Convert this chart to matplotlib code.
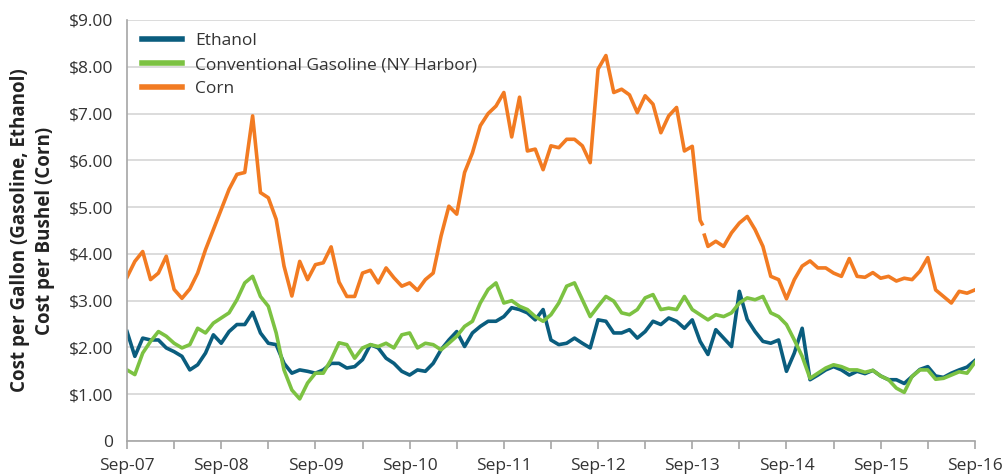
import numpy as np
import matplotlib
matplotlib.use("Agg")
from matplotlib import pyplot as plt

plt.rcParams['font.family'] = ['Open Sans', 'DejaVu Sans']

# monthly values, Sep-07 .. Sep-16 (month 0 .. 108)
ethanol = [2.34, 1.81, 2.20, 2.16, 2.16, 1.99, 1.91, 1.81, 1.52, 1.63,
           1.88, 2.27, 2.09, 2.34, 2.49, 2.49, 2.75, 2.31, 2.09, 2.06,
           1.66, 1.45, 1.52, 1.49, 1.45, 1.52, 1.66, 1.66, 1.56, 1.59,
           1.74, 2.06, 1.99, 1.77, 1.66, 1.49, 1.41, 1.52, 1.49, 1.66,
           1.95, 2.16, 2.34, 2.02, 2.31, 2.45, 2.56, 2.56, 2.66, 2.85,
           2.81, 2.74, 2.59, 2.81, 2.16, 2.06, 2.09, 2.20, 2.09, 1.99,
           2.59, 2.56, 2.31, 2.31, 2.38, 2.20, 2.34, 2.56, 2.49, 2.63,
           2.56, 2.41, 2.59, 2.13, 1.85, 2.38, 2.20, 2.02, 3.20, 2.60,
           2.34, 2.13, 2.09, 2.16, 1.49, 1.88, 2.41, 1.31, 1.41, 1.52,
           1.59, 1.52, 1.41, 1.49, 1.44, 1.51, 1.39, 1.31, 1.31, 1.23,
           1.38, 1.53, 1.59, 1.39, 1.36, 1.45, 1.52, 1.58, 1.72]

gasoline = [1.52, 1.42, 1.88, 2.13, 2.34, 2.24, 2.09, 1.99, 2.06, 2.41,
            2.31, 2.52, 2.63, 2.74, 3.02, 3.38, 3.52, 3.09, 2.88, 2.31,
            1.52, 1.09, 0.90, 1.24, 1.45, 1.45, 1.74, 2.10, 2.06, 1.77,
            1.99, 2.06, 2.02, 2.09, 1.99, 2.27, 2.31, 1.99, 2.09, 2.06,
            1.95, 2.09, 2.24, 2.45, 2.56, 2.95, 3.24, 3.38, 2.95, 3.00,
            2.88, 2.81, 2.66, 2.56, 2.70, 2.95, 3.31, 3.38, 3.02, 2.66,
            2.88, 3.09, 2.99, 2.74, 2.70, 2.81, 3.06, 3.13, 2.81, 2.84,
            2.81, 3.09, 2.81, 2.70, 2.59, 2.70, 2.66, 2.74, 2.95, 3.06,
            3.02, 3.09, 2.74, 2.66, 2.49, 2.16, 1.81, 1.34, 1.45, 1.56,
            1.63, 1.59, 1.52, 1.52, 1.47, 1.51, 1.39, 1.31, 1.13, 1.04,
            1.38, 1.52, 1.52, 1.32, 1.34, 1.41, 1.48, 1.45, 1.68]

corn = [3.50, 3.84, 4.05, 3.45, 3.59, 3.95, 3.24, 3.05, 3.25, 3.59,
        4.09, 4.52, 4.95, 5.38, 5.70, 5.74, 6.95, 5.31, 5.20, 4.74,
        3.74, 3.10, 3.84, 3.45, 3.77, 3.81, 4.15, 3.40, 3.09, 3.09,
        3.59, 3.65, 3.38, 3.70, 3.49, 3.31, 3.38, 3.22, 3.45, 3.59,
        4.38, 5.02, 4.85, 5.74, 6.16, 6.74, 7.00, 7.16, 7.45, 6.50,
        7.35, 6.20, 6.24, 5.80, 6.31, 6.27, 6.45, 6.45, 6.31, 5.95,
        7.95, 8.24, 7.45, 7.52, 7.40, 7.02, 7.38, 7.20, 6.59, 6.95,
        7.13, 6.20, 6.30, 4.72, 4.16, 4.27, 4.16, 4.45, 4.66, 4.80,
        4.52, 4.16, 3.52, 3.45, 3.04, 3.45, 3.74, 3.85, 3.70, 3.70,
        3.59, 3.52, 3.90, 3.52, 3.50, 3.60, 3.48, 3.52, 3.42, 3.48,
        3.45, 3.63, 3.92, 3.23, 3.09, 2.95, 3.20, 3.16, 3.23]

# short break in the corn series (Oct-13)
corn_gap_month = [73.25, 73.5, 73.55]
corn_gap_vals = [4.64, np.nan, 4.40]

x_labels = ['Sep-07', 'Sep-08', 'Sep-09', 'Sep-10', 'Sep-11',
            'Sep-12', 'Sep-13', 'Sep-14', 'Sep-15', 'Sep-16']
y_labels = ['0', '$1.00', '$2.00', '$3.00', '$4.00', '$5.00',
            '$6.00', '$7.00', '$8.00', '$9.00']

months = np.arange(len(ethanol))
cm = np.concatenate([months, corn_gap_month])
cv = np.concatenate([corn, corn_gap_vals])
order = np.argsort(cm, kind='stable')
cm, cv = cm[order], cv[order]

fig = plt.figure(figsize=(10.04, 4.76), dpi=100)
ax = fig.add_axes([0.1265, 0.0735, 0.8445, 0.8845])

ax.plot(months, ethanol, color='#0a5d7e', lw=2.6, label='Ethanol', solid_joinstyle='round')
ax.plot(months, gasoline, color='#7cc242', lw=2.6, label='Conventional Gasoline (NY Harbor)', solid_joinstyle='round')
ax.plot(cm, cv, color='#f27b22', lw=2.6, label='Corn', solid_joinstyle='round')

ax.set_xlim(0, 108)
ax.set_ylim(0, 9)
ax.set_yticks(range(10))
ax.set_yticklabels(y_labels)
ax.set_xticks(range(0, 109, 6))
ax.set_xticklabels([lab if i % 2 == 0 else '' for i, lab in
                    enumerate(np.repeat(x_labels, 2)[:19])])
ax.grid(axis='y', color='#d9d9d9', lw=1.3)
ax.set_axisbelow(True)
for s in ['top', 'right']:
    ax.spines[s].set_visible(False)
for s in ['left', 'bottom']:
    ax.spines[s].set_color('#a6a6a6')
    ax.spines[s].set_linewidth(1.2)
ax.tick_params(axis='y', length=0, pad=10, labelsize=12.5, labelcolor='#333333')
ax.tick_params(axis='x', length=6, color='#a6a6a6', width=1.2, pad=6,
               labelsize=12.5, labelcolor='#333333')

ax.set_ylabel('Cost per Gallon (Gasoline, Ethanol)\nCost per Bushel (Corn)',
              fontsize=13.5, fontweight='bold', color='#222222', labelpad=10,
              linespacing=1.3)

leg = ax.legend(loc='upper left', bbox_to_anchor=(0.01, 0.985), frameon=False,
                fontsize=12.5, handlelength=2.3, handletextpad=0.75,
                labelspacing=0.45, borderaxespad=0)
for t in leg.get_texts():
    t.set_color('#333333')
for h in leg.get_lines():
    h.set_linewidth(4)

fig.savefig('out.png', dpi=100)
